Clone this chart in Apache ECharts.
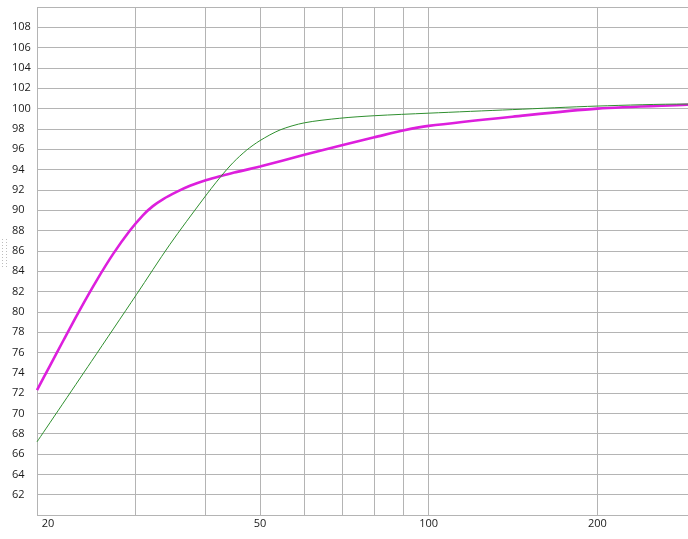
<!DOCTYPE html>
<html><head><meta charset="utf-8">
<script src="https://cdn.jsdelivr.net/npm/echarts@6/dist/echarts.min.js"></script>
<style>html,body{margin:0;padding:0;background:#fff;overflow:hidden}#c{width:688px;height:539px}</style>
</head><body><div id="c"></div>
<script>
// ---- data ----
const xGridValues = [20, 30, 40, 50, 60, 70, 80, 90, 100, 200];
const xLabelValues = [20, 50, 100, 200];
const xMin = 20, xMax = 300;
const yMin = 60, yMax = 110, yStep = 2;

const magentaFreq  = [20, 21.1, 22.3, 23.8, 25.5, 27.35, 29.3, 30.9, 32.2, 33.6, 35.5, 37.5, 40, 42.4, 45, 50, 60, 70, 80, 90, 100, 141, 200, 289, 300];
const magentaLevel = [72.3, 74.7, 77.2, 80.1, 83.0, 85.7, 88.0, 89.5, 90.4, 91.1, 91.8, 92.4, 92.95, 93.35, 93.7, 94.3, 95.45, 96.4, 97.17, 97.85, 98.3, 99.2, 100.0, 100.38, 100.4];

const greenFreq  = [20, 25, 30.1, 34.5, 39.6, 42.4, 44.8, 47.3, 50, 54.3, 60, 69.4, 80, 100, 141, 200, 289, 300];
const greenLevel = [67.2, 75.1, 81.7, 86.6, 91.1, 93.2, 94.7, 95.9, 96.85, 97.9, 98.6, 99.05, 99.3, 99.55, 99.9, 100.25, 100.45, 100.45];

// ---- chart ----
const lg = Math.log10;
const toPts = (fs, ls) => fs.map((f, i) => [lg(f), ls[i]]);
const gridColor = '#b4b4b4';
const textColor = '#1a1a1a';
const font = '"Open Sans", "Noto Sans", sans-serif';

const chart = echarts.init(document.getElementById('c'), null, {renderer: 'canvas'});
chart.setOption({
  animation: false,
  backgroundColor: '#ffffff',
  grid: {left: 37, top: 7, width: 659, height: 508, containLabel: false, outerBoundsMode: 'none'},
  xAxis: {
    type: 'value', min: lg(xMin), max: lg(xMax),
    axisLine: {show: false},
    axisTick: {show: false, customValues: xGridValues.map(lg)},
    splitLine: {show: true, lineStyle: {color: gridColor, width: 1}},
    axisLabel: {
      customValues: xLabelValues.map(lg),
      margin: 3, fontSize: 11, color: textColor, fontFamily: font,
      formatter: v => { const f = Math.round(Math.pow(10, v)); return f === xLabelValues[0] ? '{first|' + f + '}' : String(f); },
      rich: {first: {padding: [0, 0, 0, 22], fontSize: 11, color: textColor, fontFamily: font}}
    }
  },
  yAxis: {
    type: 'value', min: yMin, max: yMax, interval: yStep,
    axisLine: {show: false}, axisTick: {show: false},
    splitLine: {show: true, lineStyle: {color: gridColor, width: 1}},
    axisLabel: {showMinLabel: false, showMaxLabel: false, align: 'left', margin: 25,
      fontSize: 11, color: textColor, fontFamily: font}
  },
  graphic: [
    {type: 'line', shape: {x1: 2.5, y1: 239, x2: 2.5, y2: 268}, style: {stroke: '#bdbdbd', lineWidth: 1, lineDash: [1, 2]}},
    {type: 'line', shape: {x1: 6.5, y1: 239, x2: 6.5, y2: 268}, style: {stroke: '#bdbdbd', lineWidth: 1, lineDash: [1, 2]}}
  ],
  series: [
    {type: 'line', data: toPts(magentaFreq, magentaLevel), showSymbol: false, smooth: 0.3,
      lineStyle: {color: '#dd1fdd', width: 2.6}, z: 2},
    {type: 'line', data: toPts(greenFreq, greenLevel), showSymbol: false, smooth: 0.3,
      lineStyle: {color: '#2f8f2f', width: 1}, z: 3}
  ]
});
</script></body></html>
